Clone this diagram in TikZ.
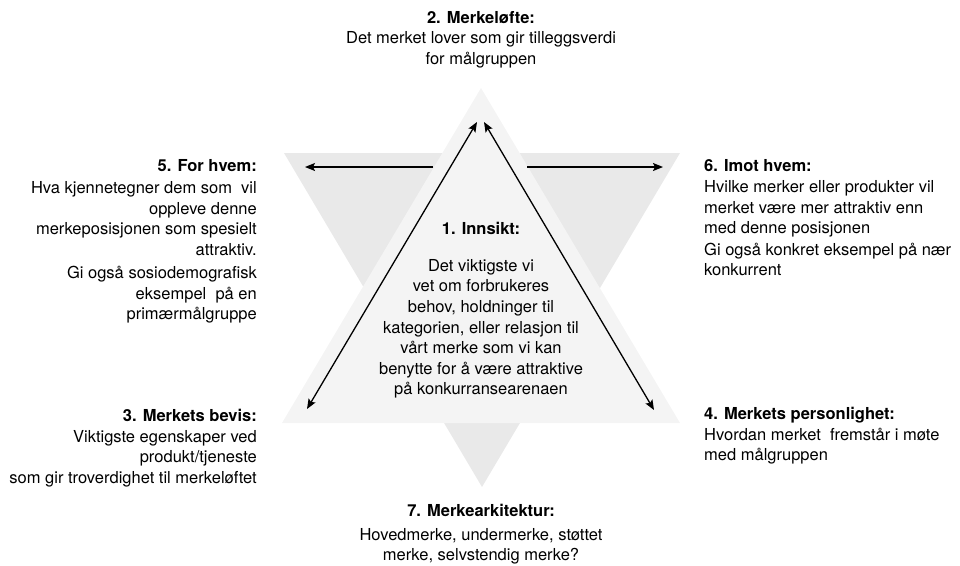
\documentclass[tikz,border=0pt]{standalone}
\usepackage{fontspec}
\setmainfont{TeX Gyre Heros}
\usetikzlibrary{arrows.meta}

\begin{document}
\begin{tikzpicture}[x=1pt,y=-1pt,
  txt/.style={inner sep=0pt,font=\fontsize{16.5}{20.5}\selectfont},
  tip/.style={line width=1.3pt,-{Stealth[length=10pt,width=8pt,inset=2pt]}},
  both/.style={tip,{Stealth[length=10pt,width=8pt,inset=2pt]}-{Stealth[length=10pt,width=8pt,inset=2pt]}}]
  \useasboundingbox (0,0) rectangle (960,565);
  % down triangle behind, up triangle in front
  \fill[gray!17] (284,153) -- (680,153) -- (482,487) -- cycle;
  \fill[gray!9] (481,88) -- (680,423) -- (282,423) -- cycle;

  % arrow ends
  \coordinate (hl-in) at (433,167);  \coordinate (hl-out) at (305,167);
  \coordinate (hr-in) at (527,167);  \coordinate (hr-out) at (663,167);
  \coordinate (top-l) at (477,122);  \coordinate (foot-l) at (307,409);
  \coordinate (top-r) at (484,122);  \coordinate (foot-r) at (654,410);
  \draw[tip] (hl-in) -- (hl-out);
  \draw[tip] (hr-in) -- (hr-out);
  \draw[both] (top-l) -- (foot-l);
  \draw[both] (top-r) -- (foot-r);

  \node[txt,anchor=north,align=center] (innsikt) at (481,222)
    {\textbf{1. Innsikt:}\\[16.5pt]Det viktigste vi\\vet om forbrukeres\\behov, holdninger til\\kategorien, eller relasjon til\\vårt merke som vi kan\\benytte for å være attraktive\\på konkurransearenaen};
  \node[txt,anchor=north,align=center] (loefte) at (481,11)
    {\textbf{2. Merkeløfte:}\\Det merket lover som gir tilleggsverdi\\for målgruppen};
  \node[txt,anchor=north east,align=right] (bevis) at (257,409)
    {\textbf{3. Merkets bevis:}\\Viktigste egenskaper ved\\produkt/tjeneste\\som gir troverdighet til merkeløftet};
  \node[txt,anchor=north west,align=left] (person) at (704,407)
    {\textbf{4. Merkets personlighet:}\\Hvordan merket\ \ fremstår i møte\\med målgruppen};
  \node[txt,anchor=north east,align=right] (hvem) at (257,159)
    {\textbf{5. For hvem:}\\[2pt]Hva kjennetegner dem som\ \ vil\\oppleve denne\\merkeposisjonen som spesielt\\attraktiv.\\[3pt]Gi også sosiodemografisk\\eksempel\ \ på en\\primærmålgruppe};
  \node[txt,anchor=north west,align=left] (imot) at (704,159)
    {\textbf{6. Imot hvem:}\\[1pt]Hvilke merker eller produkter vil\\merket være mer attraktiv enn\\med denne posisjonen\\[1pt]Gi også konkret eksempel på nær\\konkurrent};
  \node[txt,anchor=north,align=center] (arkitektur) at (481,504)
    {\textbf{7. Merkearkitektur:}\\[3pt]Hovedmerke, undermerke, støttet\\merke, selvstendig merke?};
\end{tikzpicture}
\end{document}
